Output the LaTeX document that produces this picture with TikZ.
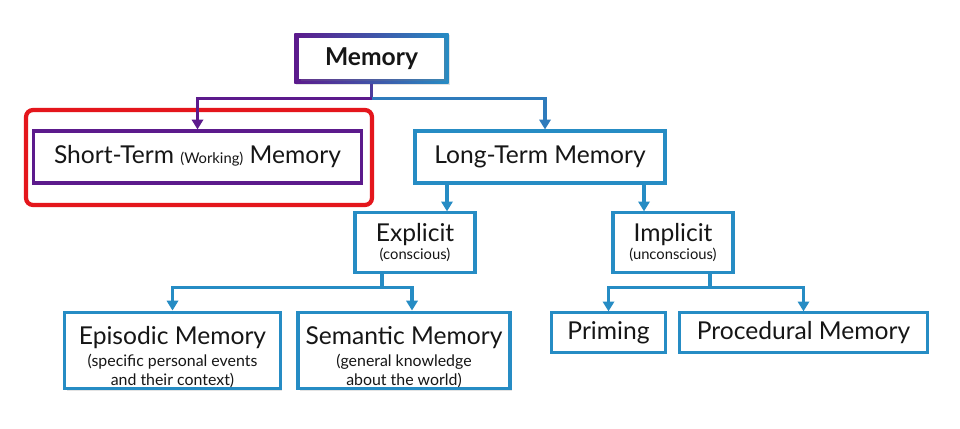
\documentclass[tikz,border=0pt]{standalone}
\usepackage{fontspec}
\setmainfont{Lato}
\usetikzlibrary{arrows.meta, shadows, backgrounds}

\definecolor{memblue}{RGB}{38,140,196}
\definecolor{mempurple}{RGB}{92,26,140}
\definecolor{memred}{RGB}{228,22,28}
\definecolor{memtext}{RGB}{22,22,22}

\newcommand{\mainsize}{\fontsize{17.5}{19}\selectfont}
\newcommand{\subsize}{\fontsize{10.5}{12}\selectfont}
\newcommand{\descsize}{\fontsize{11.3}{13}\selectfont}

\begin{document}
\begin{tikzpicture}[
    x=0.025cm, y=-0.025cm,
    box/.style={rectangle, draw=memblue, line width=2.2pt, fill=white, text=memtext,
        align=center, inner sep=1pt, font=\mainsize,
        drop shadow={shadow xshift=1.3pt, shadow yshift=-1.3pt, opacity=0.22}},
    purplebox/.style={box, draw=mempurple},
    link/.style={draw=memblue, line width=2.2pt},
    arr/.style={link, -{Triangle[length=7pt, width=8pt]}},
    highlight/.style={draw=memred, line width=3pt, rounded corners=5pt},
]

% ---- Canvas ----
\useasboundingbox (0,0) rectangle (960,428);

% ---- Top ----
\node[box, draw=none, drop shadow={opacity=0}, font=\mainsize\bfseries,
    minimum width=3.63cm, minimum height=1.03cm] (mem) at (371.5,58.5) {Memory};
\begin{pgfonlayer}{background}
\fill[white] (0,0) rectangle (960,428);
\shade[left color=mempurple, right color=memblue,
    drop shadow={shadow xshift=1.3pt, shadow yshift=-1.3pt, opacity=0.22}]
    ([shift={(-3,-3)}]mem.north west) rectangle ([shift={(3,3)}]mem.south east);
\end{pgfonlayer}

% ---- Second row ----
\node[purplebox, minimum width=8.2cm, minimum height=1.3cm] (short) at (197.5,157)
    {Short-Term {\subsize (Working)} Memory};
\node[box, minimum width=6.25cm, minimum height=1.3cm] (long) at (540,157)
    {Long-Term Memory};
\draw[highlight] (26,110) rectangle (372,205);

% ---- Third row ----
\node[box, minimum width=3cm, minimum height=1.48cm] (explicit) at (415,242.5)
    {Explicit\\[-6pt]\subsize (conscious)};
\node[box, minimum width=3cm, minimum height=1.48cm] (implicit) at (673,242.5)
    {Implicit\\[-6pt]\subsize (unconscious)};

% ---- Bottom row ----
\foreach \name/\xc/\yc/\w/\h/\lab in {
    episodic/172.5/350.5/5.38cm/1.88cm/{\rule{0pt}{22pt}Episodic Memory\\[-3pt]\descsize (specific personal events\\[-6pt]\descsize and their context)},
    semantic/404/350.5/5.3cm/1.88cm/{\rule{0pt}{22pt}Semantic Memory\\[-3pt]\descsize (general knowledge\\[-6pt]\descsize about the world)},
    priming/608.5/332.5/2.83cm/0.98cm/{Priming},
    procedural/803.5/332.5/6.18cm/0.98cm/{Procedural Memory}} {
    \node[box, minimum width=\w, minimum height=\h] (\name) at (\xc,\yc) {\lab};
}

% ---- Memory -> Short / Long ----
\path (mem.south) ++(0,18) coordinate (split);
\draw[link, draw=mempurple!70!memblue] ([shift={(0,3)}]mem.south) -- (split);
\draw[arr, draw=mempurple] (split) -| (short.north);
\draw[arr, draw=memblue!85!mempurple] (split) -| ([shift={(5,0)}]long.north);

% ---- Long -> Explicit / Implicit ----
\coordinate (exp-in) at ([shift={(32,0)}]explicit.north);
\coordinate (imp-in) at ([shift={(-29,0)}]implicit.north);
\draw[arr] (long.south -| exp-in) -- (exp-in);
\draw[arr] (long.south -| imp-in) -- (imp-in);

% ---- Explicit -> Episodic / Semantic ----
\path ([shift={(-33,0)}]explicit.south) ++(0,14) coordinate (exp-split);
\draw[link] ([shift={(-33,0)}]explicit.south) -- (exp-split);
\draw[arr] (exp-split) -| (episodic.north);
\draw[arr] (exp-split) -| ([shift={(8,0)}]semantic.north);

% ---- Implicit -> Priming / Procedural ----
\path ([shift={(37,0)}]implicit.south) ++(0,14) coordinate (imp-split);
\draw[link] ([shift={(37,0)}]implicit.south) -- (imp-split);
\draw[arr] (imp-split) -| (priming.north);
\draw[arr] (imp-split) -| (procedural.north);

\end{tikzpicture}
\end{document}
